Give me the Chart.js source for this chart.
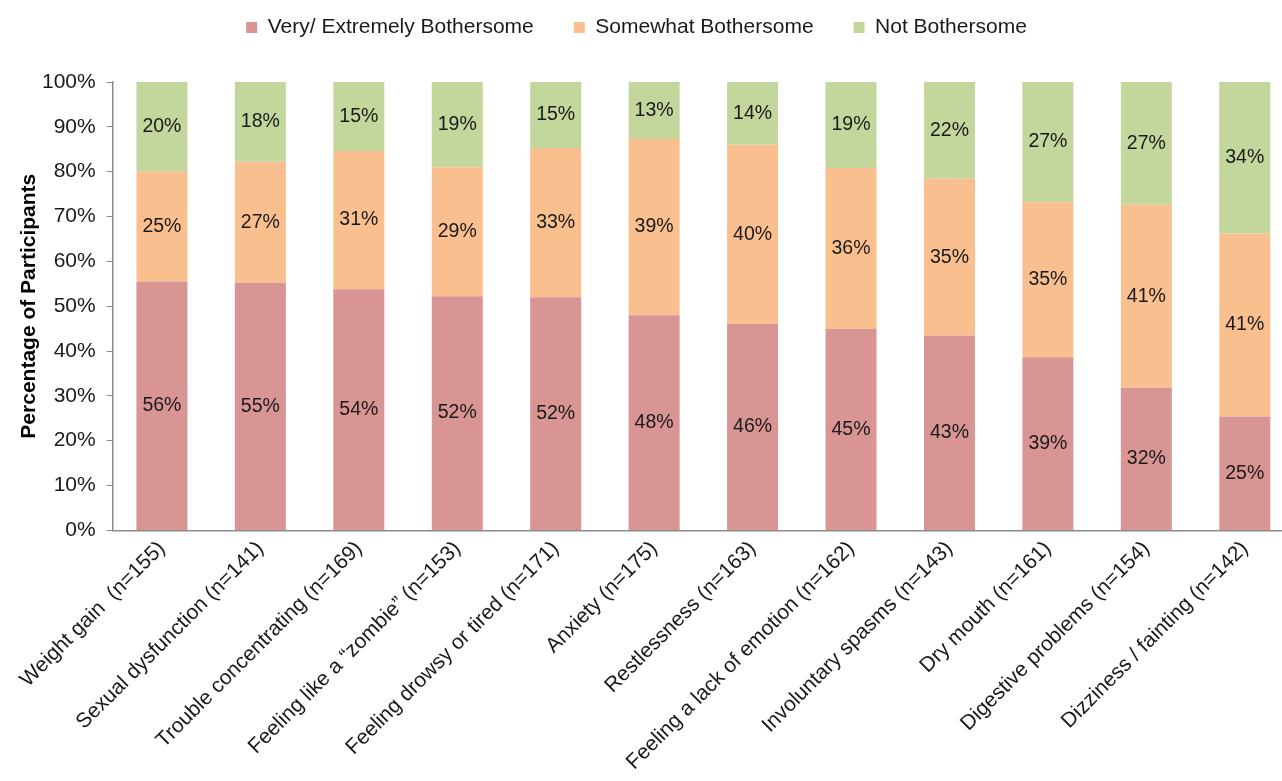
<!DOCTYPE html>
<html>
<head>
<meta charset="utf-8">
<script src="https://cdn.jsdelivr.net/npm/chart.js@4"></script>
<style>
html,body{margin:0;padding:0;background:#fff;overflow:hidden;width:1282px;height:781px;}
#wrap{width:1294px;height:781px;position:relative;}
</style>
</head>
<body>
<div id="wrap"><canvas id="c"></canvas></div>
<script>
const categories = [
  "Weight gain  (n=155)",
  "Sexual dysfunction (n=141)",
  "Trouble concentrating (n=169)",
  "Feeling like a \u201Czombie\u201D (n=153)",
  "Feeling drowsy or tired (n=171)",
  "Anxiety (n=175)",
  "Restlessness (n=163)",
  "Feeling a lack of emotion (n=162)",
  "Involuntary spasms (n=143)",
  "Dry mouth (n=161)",
  "Digestive problems (n=154)",
  "Dizziness / fainting (n=142)"
];
const veryBothersome     = [55.5, 55.2, 53.8, 52.2, 52.0, 48.0, 46.0, 44.9, 43.4, 38.6, 31.8, 25.4];
const somewhatBothersome = [24.5, 27.0, 30.8, 28.8, 33.3, 39.3, 40.0, 35.9, 35.0, 34.6, 40.8, 40.8];
const notBothersome      = [20.0, 17.8, 15.4, 19.0, 14.7, 12.7, 14.0, 19.2, 21.6, 26.8, 27.4, 33.8];
const seriesNames = ["Very/ Extremely Bothersome", "Somewhat Bothersome", "Not Bothersome"];
const yTicks = [0,10,20,30,40,50,60,70,80,90,100];

const FONT = "'Liberation Sans', Arial, sans-serif";

const segmentLabels = {
  id: 'segmentLabels',
  afterDatasetsDraw(chart) {
    const ctx = chart.ctx;
    ctx.save();
    ctx.font = "19.5px " + FONT;
    ctx.fillStyle = "#1a1a1a";
    ctx.textAlign = "center";
    ctx.textBaseline = "middle";
    chart.data.datasets.forEach((ds, di) => {
      const meta = chart.getDatasetMeta(di);
      meta.data.forEach((bar, i) => {
        const v = ds.data[i];
        const cy = (bar.y + bar.base) / 2;
        ctx.fillText(Math.round(v) + "%", bar.x, cy);
      });
    });
    ctx.restore();
  }
};

const legendShift = {
  id: 'legendShift',
  afterLayout(chart) {
    const lg = chart.legend;
    if (lg) {
      lg.top -= 34;
      lg.bottom -= 34;
      lg.left -= 20;
      lg.right -= 20;
    }
  }
};

new Chart(document.getElementById('c'), {
  type: 'bar',
  data: {
    labels: categories,
    datasets: [
      { label: seriesNames[0], data: veryBothersome, backgroundColor: '#D99594' },
      { label: seriesNames[1], data: somewhatBothersome, backgroundColor: '#FABF8F' },
      { label: seriesNames[2], data: notBothersome, backgroundColor: '#C3D69B' }
    ]
  },
  options: {
    responsive: true,
    maintainAspectRatio: false,
    animation: false,
    layout: { padding: { left: 19, right: 0, top: 11, bottom: 0 } },
    datasets: { bar: { barPercentage: 0.518, categoryPercentage: 1.0 } },
    plugins: {
      legend: {
        position: 'top',
        labels: {
          font: { family: FONT, size: 21 },
          color: '#1a1a1a',
          boxWidth: 11,
          boxHeight: 11,
          padding: 40
        }
      },
      tooltip: { enabled: false }
    },
    scales: {
      x: {
        stacked: true,
        grid: { display: false, drawOnChartArea: false, drawTicks: false },
        border: { display: true, color: '#8c8c8c', width: 1.5 },
        ticks: {
          font: { family: FONT, size: 21 },
          color: '#1a1a1a',
          maxRotation: 45,
          minRotation: 45,
          autoSkip: false,
          padding: 6
        }
      },
      y: {
        stacked: true,
        min: 0,
        max: 100,
        afterBuildTicks(axis) { axis.ticks = yTicks.map(v => ({ value: v })); },
        grid: { drawOnChartArea: false, drawTicks: true, tickLength: 6, color: '#8c8c8c' },
        border: { display: true, color: '#8c8c8c', width: 1.5 },
        ticks: {
          font: { family: FONT, size: 21 },
          color: '#1a1a1a',
          padding: 11,
          callback: v => v + '%'
        },
        title: {
          display: true,
          text: 'Percentage of Participants',
          font: { family: FONT, size: 21, weight: 'bold', lineHeight: 1 },
          color: '#000',
          padding: { top: 0, bottom: -9 }
        }
      }
    }
  },
  plugins: [segmentLabels, legendShift]
});
</script>
</body>
</html>
